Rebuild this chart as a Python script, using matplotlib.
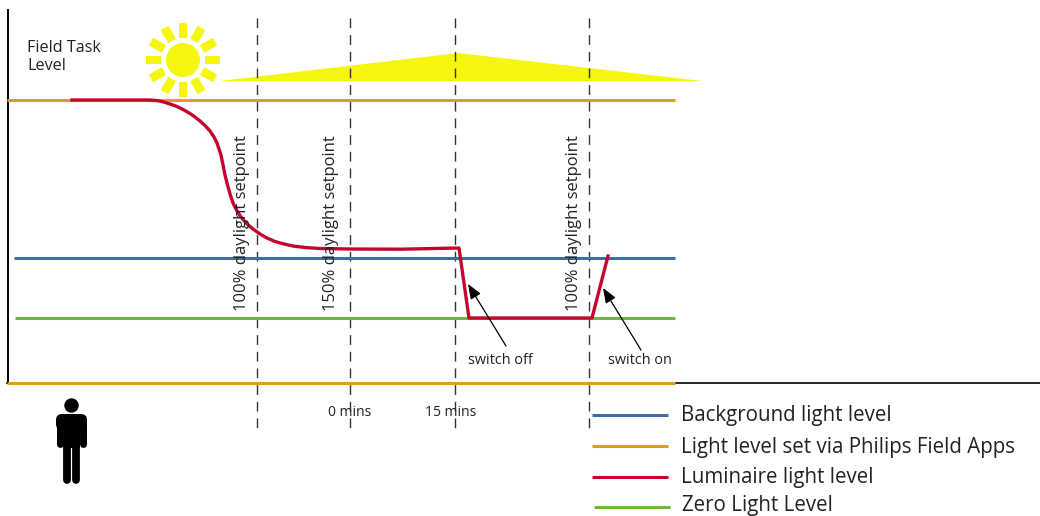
import numpy as np
import matplotlib
matplotlib.use('Agg')
import matplotlib.pyplot as plt
from matplotlib.patches import Circle, Polygon, FancyBboxPatch

plt.rcParams['font.family'] = ['Open Sans', 'DejaVu Sans']

BLUE = '#3a6ea5'
ORANGE = '#e29a2a'
RED = '#c4062f'
GREEN = '#6db843'
YELLOW = '#f6f50f'
TEXT = '#222222'

# the chart has no numeric scale, everything is read off in picture units
luminaire_x = [72, 150, 156, 162, 170, 177, 184, 190, 195, 200, 205, 210, 214, 217, 219, 221, 222, 223, 224, 225, 227,
               230, 233, 237, 241, 247, 253, 260, 267, 275, 284, 293, 305, 320, 350, 400, 459, 469, 592, 608]
luminaire_y = [100, 100, 100.5, 101.5, 104, 106.5, 110, 113.5, 117, 121, 125.5, 131, 137, 143, 149, 155, 160, 165, 170, 175, 183,
               194, 203, 211, 217, 224, 229, 234, 238, 241.5, 244, 246, 247.5, 248.5, 249, 249.2, 248, 318, 318, 256]

levels = [
    (100, 7, 675, ORANGE),
    (258, 14, 675, BLUE),
    (318, 15, 675, GREEN),
    (383, 7, 675, ORANGE),
]

marker_x = [257, 350, 455, 589]
setpoint_labels = ['100% daylight setpoint', '150% daylight setpoint', '100% daylight setpoint']
setpoint_x = [242, 331, 574]
time_labels = ['0 mins', '15 mins']
time_x = [350, 451]

daylight_x = [220, 458, 702]
daylight_y = [81, 53, 81]

legend_labels = ['Background light level', 'Light level set via Philips Field Apps',
                 'Luminaire light level', 'Zero Light Level']
legend_colors = [BLUE, ORANGE, RED, GREEN]
legend_y = [415, 446, 477, 507]
legend_text_y = [416, 447, 477, 506]
legend_x0 = [592, 592, 592, 594]
legend_x1 = [668, 668, 668, 670]
legend_text_x = [681, 681, 681, 682]

fig = plt.figure(figsize=(10.4, 5.16), dpi=100)
ax = fig.add_axes([0, 0, 1, 1])
ax.set_xlim(0, 1040)
ax.set_ylim(516, 0)
ax.axis('off')

# axes lines
ax.plot([7.5, 7.5], [10, 383], color='black', lw=1.4, zorder=2)
ax.plot([7, 1040], [383, 383], color='black', lw=1.2, zorder=2)

# daylight wedge
ax.add_patch(Polygon(np.column_stack([daylight_x, daylight_y]), closed=True, fc=YELLOW, ec='none', zorder=1))

for x in marker_x:
    ax.plot([x, x], [18, 428], color='#333333', lw=1.0, dashes=(7, 5), zorder=2)

for y, x0, x1, c in levels:
    ax.plot([x0, x1], [y, y], color=c, lw=2.2, solid_capstyle='butt', zorder=3)

ax.plot(luminaire_x, luminaire_y, color=RED, lw=2.4, solid_joinstyle='round', zorder=4)

# sun
sun_x, sun_y = 183, 60
ax.add_patch(Circle((sun_x, sun_y), 17, fc=YELLOW, ec='none', zorder=3))
for a in np.arange(0, 360, 30):
    t = np.deg2rad(a)
    d = np.array([np.cos(t), np.sin(t)])
    n = np.array([-d[1], d[0]]) * 4.4
    p0 = np.array([sun_x, sun_y]) + d * 22
    p1 = np.array([sun_x, sun_y]) + d * 37
    ax.add_patch(Polygon([p0 + n, p1 + n, p1 - n, p0 - n], closed=True, fc=YELLOW, ec='none', zorder=3))

# person icon
ax.add_patch(Circle((71.5, 405.5), 7.2, fc='black', ec='none'))
ax.add_patch(FancyBboxPatch((56, 414), 31, 16, boxstyle='round,pad=0,rounding_size=6', fc='black', ec='none'))
ax.add_patch(Polygon([(63.5, 420), (79.5, 420), (79.5, 448), (63.5, 448)], closed=True, fc='black', ec='none'))
ax.plot([59.5, 59.5], [422, 444], color='black', lw=5, solid_capstyle='round')
ax.plot([83, 83], [422, 444], color='black', lw=5, solid_capstyle='round')
ax.plot([67, 67], [440, 480], color='black', lw=5.6, solid_capstyle='round')
ax.plot([76, 76], [440, 480], color='black', lw=5.6, solid_capstyle='round')

ax.text(27, 57, 'Field Task\nLevel', fontsize=11.6, color=TEXT, ha='left', va='center', linespacing=1.22)

for x, label in zip(setpoint_x, setpoint_labels):
    ax.text(x, 311, label, rotation=90, fontsize=12, color=TEXT, ha='center', va='bottom', zorder=5)

for x, label in zip(time_x, time_labels):
    ax.text(x, 412, label, fontsize=10, color=TEXT, ha='center', va='center', zorder=5)

# switch annotations
ax.annotate('', xy=(468, 284), xytext=(506, 346),
            arrowprops=dict(arrowstyle='-|>,head_width=0.35,head_length=0.9', color='black', lw=0.9, shrinkA=0, shrinkB=0), zorder=5)
ax.annotate('', xy=(603, 288), xytext=(641, 350),
            arrowprops=dict(arrowstyle='-|>,head_width=0.35,head_length=0.9', color='black', lw=0.9, shrinkA=0, shrinkB=0), zorder=5)
ax.text(468, 360, 'switch off', fontsize=10.4, color=TEXT, ha='left', va='center')
ax.text(608, 360, 'switch on', fontsize=10.4, color=TEXT, ha='left', va='center')

# hand drawn legend
for y, ty, x0, x1, tx, c, label in zip(legend_y, legend_text_y, legend_x0, legend_x1, legend_text_x, legend_colors, legend_labels):
    ax.plot([x0, x1], [y, y], color=c, lw=2.2, solid_capstyle='butt')
    ax.text(tx, ty, label, fontsize=14.8, color=TEXT, ha='left', va='center')

fig.savefig('out.png', dpi=100)
